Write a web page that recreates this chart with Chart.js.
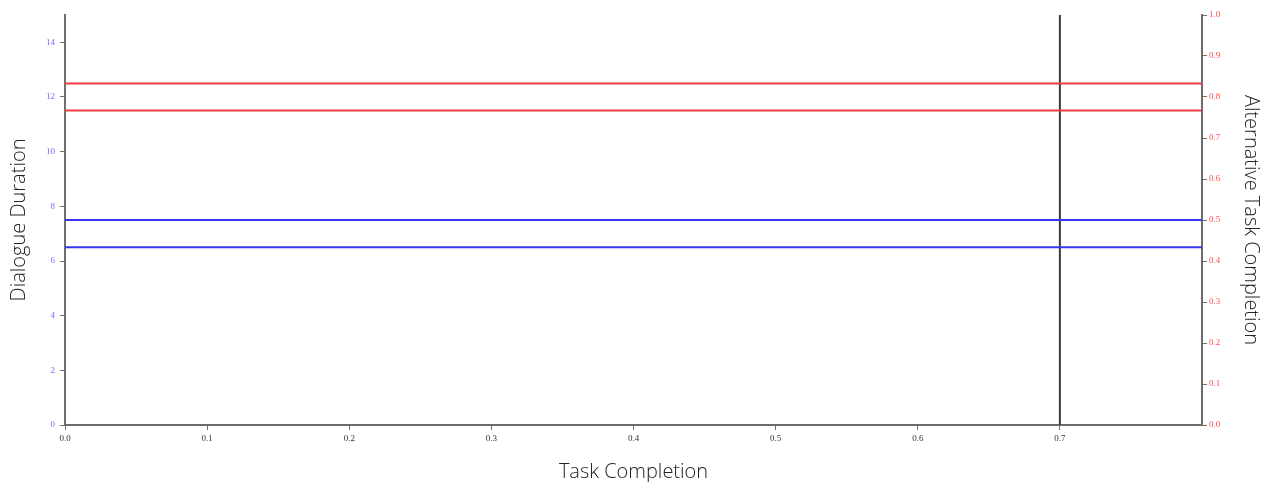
<!DOCTYPE html>
<html>
<head>
<meta charset="utf-8">
<script src="https://cdn.jsdelivr.net/npm/chart.js@4/dist/chart.umd.min.js"></script>
<style>
  html, body { margin: 0; padding: 0; background: #fff; }
  #wrap { width: 1263px; height: 482px; }
</style>
</head>
<body>
<div id="wrap"><canvas id="grafico"></canvas></div>
<script>
// horizontal reference lines, spanning the whole task completion range
var xRange = [0, 0.8];
var duracao = [6.5, 7.5];            // Dialogue Duration (left axis)
var alternativa = [0.767, 0.833];    // Alternative Task Completion (right axis)
var corte = 0.7;                     // vertical marker on Task Completion
var duracaoMax = 15;

function linha(valor, eixo, cor) {
	return {
		data: [{ x: xRange[0], y: valor }, { x: xRange[1], y: valor }],
		yAxisID: eixo,
		borderColor: cor,
		borderWidth: 2,
		pointRadius: 0
	};
}

var datasets = [];
alternativa.forEach(function(v) { datasets.push(linha(v, 'yDir', '#ec3b45')); });
duracao.forEach(function(v) { datasets.push(linha(v, 'yEsq', '#3636ee')); });
datasets.push({
	data: [{ x: corte, y: 0 }, { x: corte, y: duracaoMax }],
	yAxisID: 'yEsq',
	borderColor: '#3a3a3a',
	borderWidth: 2,
	pointRadius: 0
});

var fonteTick = { family: 'Liberation Serif', size: 9 };
var fonteTitulo = { family: 'Open Sans', size: 20, weight: 300 };

new Chart(document.getElementById('grafico').getContext('2d'), {
	type: 'line',
	data: { datasets: datasets },
	options: {
		responsive: true,
		maintainAspectRatio: false,
		animation: false,
		layout: { padding: { top: 15, left: 0, right: 0, bottom: 0 } },
		plugins: { legend: { display: false }, tooltip: { enabled: false } },
		scales: {
			x: {
				type: 'linear',
				min: xRange[0],
				max: xRange[1],
				border: { color: '#6e6e6e', width: 2 },
				grid: { drawOnChartArea: false, tickLength: 5, color: '#6e6e6e', lineWidth: 1 },
				ticks: {
					stepSize: 0.1,
					color: '#333',
					font: fonteTick,
					padding: 3,
					maxRotation: 0,
					callback: function(v) { return v.toFixed(1); }
				},
				afterBuildTicks: function(axis) {
					axis.ticks = axis.ticks.filter(function(t) { return t.value < 0.79; });
				},
				afterFit: function(axis) { axis.height = 57; },
				title: { display: true, text: 'Task Completion', color: '#222', font: fonteTitulo, padding: { top: 0, bottom: -2 } }
			},
			yEsq: {
				type: 'linear',
				position: 'left',
				min: 0,
				max: duracaoMax,
				border: { color: '#6e6e6e', width: 2 },
				grid: { drawOnChartArea: false, tickLength: 5, color: '#6e6e6e' },
				ticks: {
					stepSize: 2,
					includeBounds: false,
					color: '#6f6fff',
					font: fonteTick,
					padding: 5
				},
				afterFit: function(axis) { axis.width = 65; },
				title: { display: true, text: 'Dialogue Duration', color: '#222', font: fonteTitulo, padding: { top: 7, bottom: 0 } }
			},
			yDir: {
				type: 'linear',
				position: 'right',
				min: 0,
				max: 1,
				border: { color: '#6e6e6e', width: 2 },
				grid: { drawOnChartArea: false, tickLength: 5, color: '#6e6e6e' },
				ticks: {
					stepSize: 0.1,
					color: '#ff4d4d',
					font: fonteTick,
					padding: 2,
					callback: function(v) { return v.toFixed(1); }
				},
				afterFit: function(axis) { axis.width = 61; },
				title: { display: true, text: 'Alternative Task Completion', color: '#222', font: fonteTitulo, padding: { top: 0, bottom: 0 } }
			}
		}
	}
});
</script>
</body>
</html>
